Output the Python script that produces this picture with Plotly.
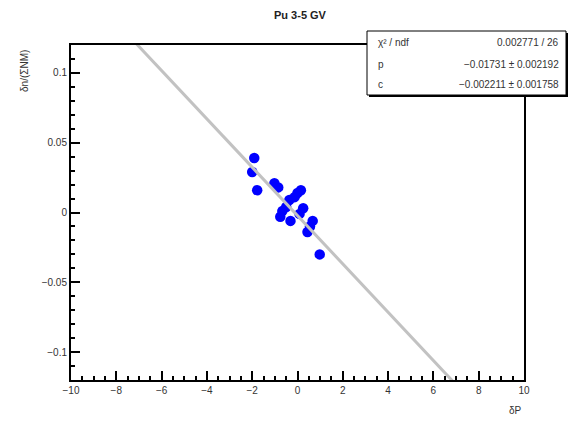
import plotly.graph_objects as go

# data
dP = [-1.91, -2.0, -1.78, -1.02, -0.85, 0.0, 0.15, -0.13, -0.36, -0.5, -0.67, -0.76, -0.31,
      0.09, 0.25, 0.67, 0.55, 0.44, 0.98]
dn = [0.039, 0.029, 0.016, 0.021, 0.018, 0.014, 0.016, 0.011, 0.009, 0.004, 0.001, -0.003, -0.006,
      -0.001, 0.003, -0.006, -0.010, -0.014, -0.030]

fit_p = -0.01731
fit_c = -0.00221
line_x = [-10, 10]
line_y = [fit_p * x + fit_c for x in line_x]

x_ticks = [-10, -8, -6, -4, -2, 0, 2, 4, 6, 8, 10]
y_ticks = [-0.1, -0.05, 0, 0.05, 0.1]
y_ticktext = ["\u22120.1", "\u22120.05", "0", "0.05", "0.1"]
x_ticktext = [("\u2212" + str(-v)) if v < 0 else str(v) for v in x_ticks]

stat_labels = ["\u03c7\u00b2 / ndf", "p", "c"]
stat_values = ["0.002771 / 26", "\u22120.01731 \u00b1 0.002192", "\u22120.002211 \u00b1 0.001758"]

W, H = 572, 423
L, R, T, B = 71, 48, 45, 43
pw, ph = W - L - R, H - T - B


def px(x):
    return (x - L) / pw


def py(y):
    return (H - B - y) / ph


FONT = "Liberation Sans, Arial, sans-serif"

fig = go.Figure()
fig.add_trace(go.Scatter(x=dP, y=dn, mode="markers",
                         marker=dict(color="#0000ff", size=10.5, line=dict(width=0)),
                         showlegend=False))
fig.add_trace(go.Scatter(x=line_x, y=line_y, mode="lines",
                         line=dict(color="#c2c2c2", width=3), showlegend=False))

axis_common = dict(showline=True, linecolor="black", linewidth=2, mirror=True,
                   ticks="inside", ticklen=9, tickwidth=1.5, tickcolor="black",
                   showgrid=False, zeroline=False,
                   tickfont=dict(family=FONT, size=10, color="#333"))

fig.update_xaxes(range=[-10, 10], tickvals=x_ticks, ticktext=x_ticktext,
                 minor=dict(ticks="inside", ticklen=4, dtick=0.5, tickcolor="black", tickwidth=1.5),
                 **axis_common)
fig.update_yaxes(range=[-0.12, 0.12], tickvals=y_ticks, ticktext=y_ticktext,
                 minor=dict(ticks="inside", ticklen=4, dtick=0.01, tickcolor="black", tickwidth=1.5),
                 **axis_common)

shapes = []
# stat box shadow and box
bx0, bx1, by0, by1 = 367, 566, 31, 95
shapes.append(dict(type="rect", xref="paper", yref="paper",
                   x0=px(bx0 + 2), x1=px(bx1 + 2), y0=py(by1 + 2), y1=py(by0 + 2),
                   fillcolor="black", line=dict(width=0), layer="above"))
shapes.append(dict(type="rect", xref="paper", yref="paper",
                   x0=px(bx0), x1=px(bx1), y0=py(by1), y1=py(by0),
                   fillcolor="white", line=dict(color="black", width=1), layer="above"))

annotations = []
rows_y = [43, 64, 84]
for lab, val, ry in zip(stat_labels, stat_values, rows_y):
    annotations.append(dict(xref="paper", yref="paper", x=px(376), y=py(ry), text=lab,
                            xanchor="left", yanchor="middle", showarrow=False,
                            font=dict(family=FONT, size=10, color="#333")))
    annotations.append(dict(xref="paper", yref="paper", x=px(561), y=py(ry), text=val,
                            xanchor="right", yanchor="middle", showarrow=False,
                            font=dict(family=FONT, size=10, color="#333")))

annotations.append(dict(xref="paper", yref="paper", x=px(300), y=py(15), text="<b>Pu 3-5 GV</b>",
                        xanchor="center", yanchor="middle", showarrow=False,
                        font=dict(family=FONT, size=11, color="#222")))
annotations.append(dict(xref="paper", yref="paper", x=px(24), y=py(48), text="\u03b4n/(\u03a3NM)",
                        textangle=-90, xanchor="center", yanchor="top", showarrow=False,
                        font=dict(family=FONT, size=10, color="#333")))
annotations.append(dict(xref="paper", yref="paper", x=px(524), y=py(410), text="\u03b4P",
                        xanchor="right", yanchor="middle", showarrow=False,
                        font=dict(family=FONT, size=10, color="#333")))

fig.update_layout(width=W, height=H, margin=dict(l=L, r=R, t=T, b=B),
                  paper_bgcolor="white", plot_bgcolor="white",
                  shapes=shapes, annotations=annotations)

fig.write_html("out.html")
